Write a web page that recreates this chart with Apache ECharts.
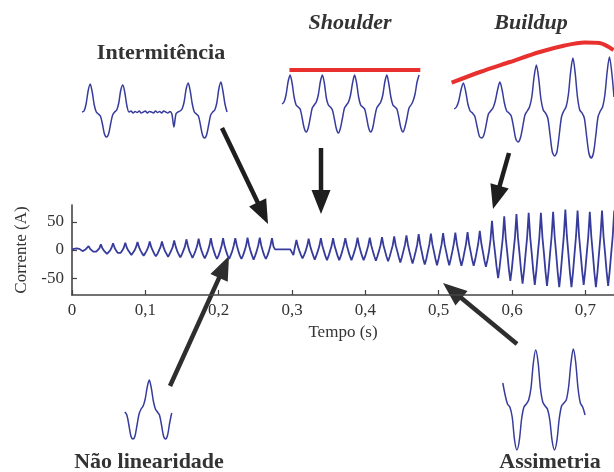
<!DOCTYPE html>
<html><head><meta charset="utf-8">
<script src="https://cdn.jsdelivr.net/npm/echarts@6/dist/echarts.min.js"></script>
<style>html,body{margin:0;padding:0;background:#fff}#c{width:614px;height:472px}</style>
</head><body><div id="c"></div>
<script>
// ---- Main trace: 8 samples per 60 Hz cycle, each row starts at a peak (A) ----
const mainStart = 0.006;
const mainStep = 1 / 480;
const mainCycles = [
  [3, 1, 2, -1, -2, 0, 1, 2],
  [7, 2, -1, -3, -5, -3, 0, 3],
  [10, 3, -1, -4, -7, -4, -1, 4],
  [12, 4, -1, -5, -8, -5, -1, 4],
  [13, 4, -1, -5, -9, -5, -1, 5],
  [14, 5, -1, -6, -10, -6, -1, 5],
  [15, 5, -1, -7, -11, -7, -1, 5],
  [15, 5, -2, -7, -12, -7, -1, 5],
  [17, 6, -2, -8, -13, -8, -1, 6],
  [19, 7, -2, -8, -14, -8, -1, 7],
  [20, 7, -2, -9, -15, -9, -2, 7],
  [21, 7, -2, -10, -16, -10, -2, 7],
  [21, 7, -2, -10, -16, -9, -2, 8],
  [21, 8, -2, -10, -16, -10, -2, 7],
  [22, 8, -2, -10, -17, -10, -2, 8],
  [22, 8, -2, -10, -16, -10, -2, 8],
  [21, 6, 1, 0, 1, 0, 1, 0],
  [1, 0, 1, 0, 1, -1, -9, 5],
  [18, 6, -2, -9, -15, -9, -2, 7],
  [20, 7, -2, -10, -17, -10, -2, 7],
  [21, 7, -2, -11, -18, -11, -2, 7],
  [21, 7, -2, -11, -18, -11, -2, 8],
  [21, 8, -2, -11, -18, -11, -2, 7],
  [22, 8, -2, -11, -18, -11, -2, 8],
  [22, 8, -2, -11, -19, -11, -2, 8],
  [23, 8, -2, -12, -20, -12, -2, 8],
  [24, 8, -2, -13, -22, -13, -2, 9],
  [26, 9, -3, -14, -24, -14, -3, 9],
  [28, 10, -3, -16, -26, -16, -3, 10],
  [29, 10, -3, -16, -27, -16, -3, 10],
  [30, 10, -3, -16, -27, -16, -3, 11],
  [31, 11, -3, -17, -28, -17, -3, 11],
  [32, 11, -3, -17, -28, -17, -3, 12],
  [34, 12, -3, -18, -30, -18, -3, 18],
  [52, 18, -5, -30, -50, -30, -5, 20],
  [60, 21, -5, -33, -55, -33, -5, 22],
  [64, 22, -6, -36, -60, -36, -6, 23],
  [66, 23, -6, -37, -62, -37, -6, 23],
  [66, 23, -6, -38, -64, -38, -6, 24],
  [68, 24, -7, -40, -66, -40, -7, 25],
  [72, 25, -7, -40, -66, -40, -7, 25],
  [70, 24, -6, -37, -62, -37, -6, 24],
  [68, 24, -7, -40, -66, -40, -7, 25],
  [70, 24, -6, -38, -64, -38, -6, 24],
  [70]
];
const xTicks = [0, 0.1, 0.2, 0.3, 0.4, 0.5, 0.6, 0.7];
const yTicks = [-50, 0, 50];

// ---- Inset waveforms (uniform sample steps, arbitrary amplitude units) ----
const intermitencia = [0,1,8,21,28,20,7,0,-2,-4,-12,-22,-25,-22,-12,-3,0,2,9,22,27,19,6,
  0,1,-1,0.5,-0.5,1,-1,0,1,-1,0.5,0,-1,1,-0.5,0.5,-1,1,0,-1,0.5,
  -2,-15,-2,0,1,3,10,23,29,21,8,0,-2,-4,-13,-23,-26,-23,-13,-3,0,2,9,23,30,21,8,0];
const shoulder = [0,2,9,22,
  29,21,7,-1,-3,-5,-14,-24,-28,-24,-14,-4,-1,2,9,22,
  29,21,6,-1,-3,-6,-15,-25,-29,-24,-14,-4,-1,2,9,21,
  29,21,7,-1,-3,-5,-14,-24,-28,-24,-13,-4,-1,2,9,22,
  29,20,7,-1,-3,-5,-14,-24,-28,-23,-14,-4,-1,3,10,22,
  29];
const shoulderEnvelope = [[3.7, 34], [68.6, 34]];
const buildup = [1,3,9,20,
  27,19,6,-1,-3,-6,-16,-26,-28,-25,-15,-4,-1,2,9,20,
  28,20,7,-1,-3,-6,-17,-29,-32,-28,-17,-5,-1,3,13,33,
  45,32,11,0,-3,-8,-25,-42,-46,-42,-25,-7,-1,3,15,38,
  52,37,13,0,-3,-8,-26,-43,-48,-43,-26,-7,-1,3,15,38,
  53,38,13];
const buildupEnvelope = [[-1.1, 27.3], [11.3, 38], [24.4, 48], [37.5, 58], [48.4, 64.5], [57.1, 67.5], [63.6, 67], [69.8, 60]];
const naoLinearidade = [-2,-5,-15,-26,-29,-26,-15,-4,1,4,11,23,30,22,9,1,-2,-5,-15,-26,-29,-25,-13,-3];
const assimetria = [22,10,1,-2,-12,-35,-45,-36,-14,-2,1,5,17,42,55,43,17,3,-1,-4,-15,-36,-45,-36,-14,-1,2,5,18,42,56,43,17,2,-2,-10];

// ---- build ----
const mainData = [[0, 1]];
let idx = 0;
mainCycles.forEach(row => row.forEach(v => { mainData.push([mainStart + idx * mainStep, v]); idx++; }));
const idxPairs = arr => arr.map((v, i) => [i, v]);

const BLUE = '#373c9c';
const RED = '#e8302e';
const serif = '"Liberation Serif", "DejaVu Serif", serif';

const grids = [
  { left: 72, top: 205, right: 0, height: 90 },           // main
  { left: 82, top: 80, width: 145, height: 62 },          // intermitência
  { left: 282, top: 68, width: 139.1, height: 66 },       // shoulder
  { left: 449.6, top: 40, width: 164.9, height: 120 },    // buildup
  { left: 124.8, top: 378, width: 46.9, height: 63 },     // não linearidade
  { left: 502.8, top: 348, width: 82.25, height: 104 }    // assimetria
];
const insetX = [[0, 71], [0, 69], [-2, 70], [0, 23], [0, 35]];
const insetY = [[-30, 32], [-30, 36], [-50, 70], [-31, 32], [-47, 57]];

const xAxes = [{
  gridIndex: 0, type: 'value', min: 0, max: 0.739,
  axisLine: { show: true, onZero: false, lineStyle: { color: '#444', width: 1.6 } },
  axisTick: { show: true, inside: true, length: 5, customValues: xTicks, lineStyle: { color: '#444', width: 1.2 } },
  axisLabel: { customValues: xTicks, margin: 7, fontFamily: serif, fontSize: 17, color: '#333',
    formatter: v => v === 0 ? '0' : v.toFixed(1).replace('.', ',') },
  splitLine: { show: false },
  name: 'Tempo (s)', nameLocation: 'middle', nameGap: 29,
  nameTextStyle: { fontFamily: serif, fontSize: 17, color: '#333' }
}];
const yAxes = [{
  gridIndex: 0, type: 'value', min: -80, max: 80,
  axisLine: { show: true, onZero: false, lineStyle: { color: '#444', width: 1.6 } },
  axisTick: { show: true, inside: true, length: 5, customValues: yTicks, lineStyle: { color: '#444', width: 1.2 } },
  axisLabel: { customValues: yTicks, margin: 8, fontFamily: serif, fontSize: 17, color: '#333' },
  splitLine: { show: false },
  name: 'Corrente (A)', nameLocation: 'middle', nameGap: 40, nameRotate: 90,
  nameTextStyle: { fontFamily: serif, fontSize: 17, color: '#333' }
}];
for (let g = 1; g <= 5; g++) {
  xAxes.push({ gridIndex: g, type: 'value', min: insetX[g - 1][0], max: insetX[g - 1][1], show: false });
  yAxes.push({ gridIndex: g, type: 'value', min: insetY[g - 1][0], max: insetY[g - 1][1], show: false });
}

const lineSeries = (g, data, extra) => Object.assign({
  type: 'line', xAxisIndex: g, yAxisIndex: g, data: data, showSymbol: false, symbol: 'none',
  silent: true, animation: false, lineStyle: { color: BLUE, width: 1.5 }
}, extra || {});

const series = [
  lineSeries(0, mainData, { lineStyle: { color: BLUE, width: 1.8 } }),
  lineSeries(1, idxPairs(intermitencia), { smooth: 0.3 }),
  lineSeries(2, idxPairs(shoulder), { smooth: 0.3 }),
  lineSeries(2, shoulderEnvelope, { lineStyle: { color: RED, width: 4 } }),
  lineSeries(3, idxPairs(buildup), { smooth: 0.3 }),
  lineSeries(3, buildupEnvelope, { smooth: 0.3, lineStyle: { color: RED, width: 4 } }),
  lineSeries(4, idxPairs(naoLinearidade), { smooth: 0.3 }),
  lineSeries(5, idxPairs(assimetria), { smooth: 0.3 })
];

// ---- annotations ----
function arrow(tail, tip, color) {
  const dx = tip[0] - tail[0], dy = tip[1] - tail[1];
  const L = Math.hypot(dx, dy), ux = dx / L, uy = dy / L;
  const hl = 24, hw = 9.5;
  const bx = tip[0] - ux * hl, by = tip[1] - uy * hl;
  return [
    { type: 'line', silent: true, shape: { x1: tail[0], y1: tail[1], x2: bx + ux * 3, y2: by + uy * 3 },
      style: { stroke: color, lineWidth: 4.5 } },
    { type: 'polygon', silent: true, shape: { points: [tip, [bx - uy * hw, by + ux * hw], [bx + uy * hw, by - ux * hw]] },
      style: { fill: color } }
  ];
}
function label(text, x, y, italic) {
  return { type: 'text', x: x, y: y, silent: true,
    style: { text: text, font: (italic ? 'italic ' : '') + 'bold 22px ' + serif, fill: '#333',
      align: 'center', verticalAlign: 'middle', textAlign: 'center', textVerticalAlign: 'middle' } };
}
const graphic = [].concat(
  arrow([222, 128], [268, 224], '#1e1e1e'),
  arrow([321, 148], [321, 214], '#1e1e1e'),
  arrow([509, 153], [493, 209], '#1e1e1e'),
  arrow([170, 386], [229, 256], '#2e2e2e'),
  arrow([517, 344], [443, 283], '#2e2e2e'),
  [label('Intermitência', 161, 53, false),
   label('Shoulder', 350, 23, true),
   label('Buildup', 531, 23, true),
   label('Não linearidade', 149, 462, false),
   label('Assimetria', 550, 462, false)]
);

const chart = echarts.init(document.getElementById('c'), null, { renderer: 'canvas' });
chart.setOption({
  animation: false,
  backgroundColor: '#fff',
  grid: grids,
  xAxis: xAxes,
  yAxis: yAxes,
  series: series,
  graphic: graphic
});
</script></body></html>
